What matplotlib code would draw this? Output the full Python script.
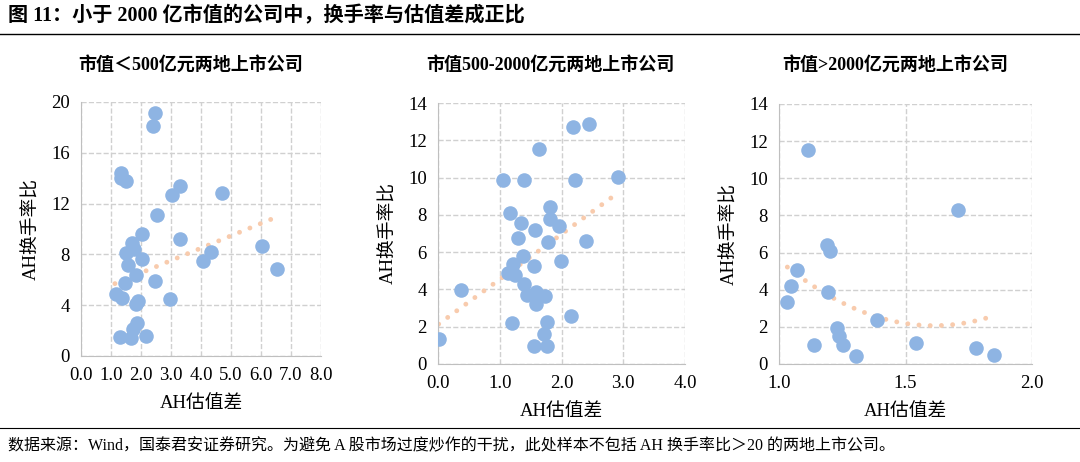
import numpy as np
import matplotlib.pyplot as plt

plt.rcParams['font.family'] = ['Liberation Serif', 'Noto Sans CJK SC']

# panel 1: market cap < 500
x1 = [2.47, 2.41, 1.33, 1.33, 1.49, 3.3, 3.04, 4.71, 2.52, 2.02, 3.3, 1.69, 1.77, 1.5, 2.02,
      4.08, 4.32, 6.03, 6.52, 1.56, 1.82, 2.47, 1.47, 1.16, 1.38, 2.97, 1.89, 1.83, 1.88,
      1.74, 1.3, 1.66, 2.17]
y1 = [19.15, 18.1, 14.4, 14.0, 13.8, 13.4, 12.7, 12.8, 11.1, 9.6, 9.2, 8.9, 8.4, 8.1, 7.6,
      7.5, 8.2, 8.7, 6.85, 7.2, 6.4, 5.9, 5.75, 4.9, 4.55, 4.5, 4.35, 4.1, 2.6,
      2.1, 1.5, 1.4, 1.6]
# trendline as drawn in the source (fitted on the full sample, incl. excluded points)
trend1_coef = [0.973, 4.6]
trend1_range = [1.13, 6.37]
# panel 2: 500-2000
x2 = [0.01, 0.37, 1.06, 1.39, 2.22, 2.91, 2.18, 2.45, 1.64, 1.16, 1.81, 1.81, 1.34, 1.96,
      1.57, 1.3, 1.78, 2.39, 1.37, 1.99, 1.22, 1.56, 1.14, 1.25, 1.39, 1.59, 1.44, 1.74,
      1.58, 2.16, 1.2, 1.76, 1.71, 1.55, 1.77]
y2 = [1.36, 3.96, 9.86, 9.86, 9.86, 10.04, 12.7, 12.86, 11.55, 8.1, 8.43, 7.79, 7.54, 7.41,
      7.18, 6.77, 6.52, 6.6, 5.8, 5.54, 5.39, 5.27, 4.88, 4.8, 4.27, 3.88, 3.7, 3.64,
      3.21, 2.57, 2.2, 2.23, 1.6, 0.96, 0.96]
# panel 3: > 2000
x3 = [1.116, 1.707, 1.188, 1.201, 1.07, 1.046, 1.033, 1.195, 1.386, 1.228, 1.236, 1.254,
      1.14, 1.303, 1.543, 1.778, 1.851]
y3 = [11.54, 8.29, 6.41, 6.09, 5.04, 4.2, 3.34, 3.89, 2.36, 1.95, 1.5, 1.02,
      1.05, 0.45, 1.14, 0.86, 0.48]

panels = [
    dict(x=x1, y=y1, coef=trend1_coef, xr=trend1_range, title='市值＜500亿元两地上市公司',
         rect=[81, 102, 321, 356], xlim=(0, 8), xticks=np.arange(0, 8.1, 1),
         ylim=(0, 20), yticks=range(0, 21, 4)),
    dict(x=x2, y=y2, deg=1, title='市值500-2000亿元两地上市公司', rect=[438, 103, 685, 364],
         xlim=(0, 4), xticks=np.arange(0, 4.1, 1), ylim=(0, 14), yticks=range(0, 15, 2)),
    dict(x=x3, y=y3, deg=2, title='市值>2000亿元两地上市公司', rect=[779, 104, 1032, 364],
         xlim=(1, 2), xticks=np.arange(1, 2.01, 0.5), ylim=(0, 14), yticks=range(0, 15, 2)),
]

W, H = 1080, 462
fig = plt.figure(figsize=(W / 100, H / 100), dpi=100)

for p in panels:
    l, t, r, b = p['rect']
    ax = fig.add_axes([l / W, 1 - b / H, (r - l) / W, (b - t) / H])
    ax.scatter(p['x'], p['y'], s=110, color='#8EB4E3', zorder=3, linewidths=0)
    if 'coef' in p:
        coef = p['coef']
        xs = np.linspace(p['xr'][0], p['xr'][1], 100)
    else:
        coef = np.polyfit(p['x'], p['y'], p['deg'])
        xs = np.linspace(min(p['x']), max(p['x']), 100)
    ax.plot(xs, np.polyval(coef, xs), color='#F8CBAD', lw=3.5, ls=(0, (0.01, 2.3)),
            dash_capstyle='round', zorder=2)
    ax.set_xlim(*p['xlim'])
    ax.set_ylim(*p['ylim'])
    ax.set_xticks(p['xticks'])
    ax.set_xticklabels(['%.1f' % v for v in p['xticks']])
    ax.set_yticks(p['yticks'])
    ax.grid(True, color='#D0D0D0', ls='--', lw=1)
    ax.set_axisbelow(True)
    for s in ['top', 'right']:
        ax.spines[s].set_visible(False)
    for s in ['left', 'bottom']:
        ax.spines[s].set_color('#BFBFBF')
    ax.tick_params(length=0, labelsize=13.5, pad=8)
    ax.set_xlabel('AH估值差', fontsize=13.5, labelpad=8)
    ax.set_ylabel('AH换手率比', fontsize=13.5, labelpad=8)
    fig.text((l + r) / 2 / W - 0.01, 1 - 65 / H, p['title'], ha='center', va='center',
             fontsize=13, fontweight='bold')

fig.text(8 / W, 1 - 16 / H, '图 11：小于 2000 亿市值的公司中，换手率与估值差成正比',
         fontsize=14.5, fontweight='bold', va='center', ha='left')
fig.add_artist(plt.Line2D([0, 1], [1 - 34 / H, 1 - 34 / H], color='black', lw=1))
fig.add_artist(plt.Line2D([0, 1], [1 - 428 / H, 1 - 428 / H], color='black', lw=0.8))
fig.text(8 / W, 1 - 446 / H,
         '数据来源：Wind，国泰君安证券研究。为避免 A 股市场过度炒作的干扰，此处样本不包括 AH 换手率比＞20 的两地上市公司。',
         fontsize=11.5, va='center', ha='left')

fig.savefig('out.png', dpi=100)
